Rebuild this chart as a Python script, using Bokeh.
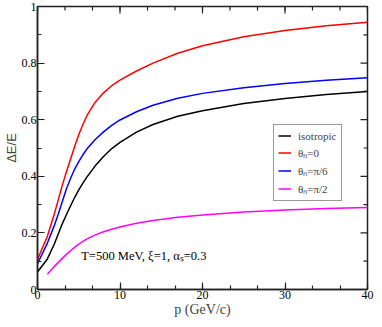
import math
from bokeh.plotting import figure
from bokeh.models import FixedTicker, Legend, LegendItem, Label, Range1d
from bokeh.embed import file_html
from bokeh.resources import INLINE

# ---------------- data ----------------
p_main = [0, 1.2, 2, 2.5, 3, 3.5, 4, 4.5, 5, 5.5, 6, 7, 8, 9, 10, 12, 14, 17,
          20, 25, 30, 35, 40]
iso = [0.062, 0.108, 0.158, 0.195, 0.232, 0.264, 0.295, 0.325, 0.352, 0.376,
       0.398, 0.437, 0.470, 0.498, 0.520, 0.556, 0.583, 0.612, 0.632, 0.657,
       0.675, 0.689, 0.700]
theta0 = [0.106, 0.188, 0.263, 0.315, 0.368, 0.415, 0.460, 0.505, 0.547, 0.583,
          0.615, 0.662, 0.695, 0.720, 0.740, 0.772, 0.800, 0.835, 0.861, 0.893,
          0.915, 0.932, 0.944]
theta_pi6 = [0.091, 0.164, 0.223, 0.265, 0.310, 0.355, 0.392, 0.425, 0.452,
             0.476, 0.497, 0.530, 0.557, 0.580, 0.599, 0.628, 0.651, 0.676,
             0.693, 0.713, 0.728, 0.739, 0.748]
p_perp = [1.2, 2, 2.5, 3, 3.5, 4, 4.5, 5, 5.5, 6, 7, 8, 9, 10, 12, 14, 17, 20,
          25, 30, 35, 40]
theta_pi2 = [0.054, 0.080, 0.095, 0.110, 0.124, 0.137, 0.149, 0.160, 0.170,
             0.179, 0.193, 0.204, 0.213, 0.221, 0.234, 0.244, 0.255, 0.263,
             0.274, 0.281, 0.286, 0.290]

series_labels = ["isotropic", "θₙ=0", "θₙ=π/6", "θₙ=π/2"]
series_colors = ["#000000", "#ff0000", "#0000ff", "#ff00ff"]

x_major = [0, 10, 20, 30, 40]
x_minor = [10 / 3 * i for i in range(13)]
y_major = [0, 0.2, 0.4, 0.6, 0.8, 1.0]
y_minor = [0.1, 0.3, 0.5, 0.7, 0.9]
y_tick_labels = {0: "0", 0.2: "0.2", 0.4: "0.4", 0.6: "0.6", 0.8: "0.8", 1.0: "1"}
x_tick_labels = {0: "0", 10: "10", 20: "20", 30: "30", 40: "40"}

annotation = "T=500 MeV, ξ=1, αₛ=0.3"

# ---------------- figure ----------------
SERIF = "'Liberation Serif', serif"
AXC = "#222222"
X0, X1, Y0, Y1 = 0, 40, 0, 1

p = figure(width=374, height=319, output_backend="svg", toolbar_location=None,
           x_range=Range1d(X0, X1), y_range=Range1d(Y0, Y1),
           min_border_left=0, min_border_right=7, min_border_top=6,
           min_border_bottom=0)
p.xgrid.visible = False
p.ygrid.visible = False
p.outline_line_color = AXC
p.outline_line_width = 1.5
p.background_fill_color = "white"
p.border_fill_color = "white"


def style_axis(ax, labels):
    ax.axis_line_color = AXC
    ax.axis_line_width = 1.5
    ax.major_tick_in = 7
    ax.major_tick_out = 0
    ax.minor_tick_in = 4
    ax.minor_tick_out = 0
    ax.major_tick_line_color = AXC
    ax.minor_tick_line_color = AXC
    ax.major_tick_line_width = 1.2
    ax.minor_tick_line_width = 1.2
    ax.major_label_overrides = labels
    ax.major_label_text_font = SERIF
    ax.major_label_text_font_size = "12px"
    ax.major_label_text_color = "black"
    ax.major_label_standoff = 1


xb = p.xaxis[0]
xb.ticker = FixedTicker(ticks=x_major, minor_ticks=x_minor)
style_axis(xb, x_tick_labels)
xb.axis_label = "p (GeV/c)"
xb.axis_label_text_font = SERIF
xb.axis_label_text_font_style = "normal"
xb.axis_label_text_font_size = "14px"
xb.axis_label_standoff = 0

yl = p.yaxis[0]
yl.ticker = FixedTicker(ticks=y_major, minor_ticks=y_minor)
style_axis(yl, y_tick_labels)
yl.axis_label = "ΔE/E"
yl.axis_label_text_font = "'Liberation Sans', sans-serif"
yl.axis_label_text_font_style = "normal"
yl.axis_label_text_font_size = "13px"
yl.axis_label_standoff = 0

# inward ticks on the top and right frame edges (mirroring the axes)
p.scatter(x_major, [Y1] * len(x_major), marker="dash", angle=math.pi / 2,
          size=14, line_color=AXC, line_width=1.2)
p.scatter(x_minor, [Y1] * len(x_minor), marker="dash", angle=math.pi / 2,
          size=8, line_color=AXC, line_width=1.2)
p.scatter([X1] * len(y_major), y_major, marker="dash",
          size=14, line_color=AXC, line_width=1.2)
p.scatter([X1] * len(y_minor), y_minor, marker="dash",
          size=8, line_color=AXC, line_width=1.2)

# ---------------- curves ----------------
r_iso = p.line(p_main, iso, line_color=series_colors[0], line_width=1.5)
r_0 = p.line(p_main, theta0, line_color=series_colors[1], line_width=1.5)
r_6 = p.line(p_main, theta_pi6, line_color=series_colors[2], line_width=1.5)
r_2 = p.line(p_perp, theta_pi2, line_color=series_colors[3], line_width=1.5)

legend = Legend(items=[LegendItem(label=series_labels[i], renderers=[r])
                       for i, r in enumerate([r_iso, r_0, r_6, r_2])],
                location=(236, 88))
legend.label_text_font = SERIF
legend.label_text_font_size = "11px"
legend.glyph_width = 13
legend.glyph_height = 13
legend.label_height = 13
legend.label_standoff = 7
legend.spacing = 3
legend.padding = 4
legend.margin = 0
legend.border_line_color = "#333333"
legend.border_line_width = 1
legend.background_fill_color = "white"
legend.background_fill_alpha = 1
p.add_layout(legend)

p.add_layout(Label(x=5.3, y=0.118, text=annotation, text_font=SERIF,
                   text_font_size="12.5px", text_color="black",
                   text_baseline="alphabetic"))

open("out.html", "w").write(file_html(p, INLINE))
